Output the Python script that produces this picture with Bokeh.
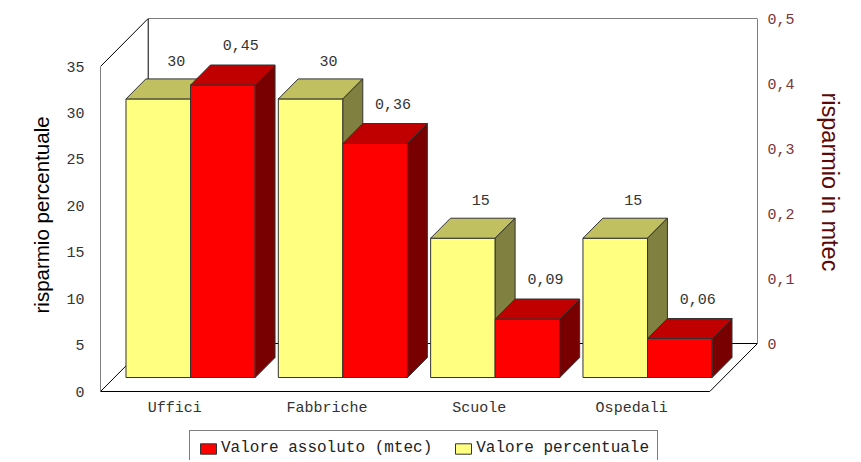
from bokeh.plotting import figure
from bokeh.models import (Range1d, LinearAxis, FixedTicker, ColumnDataSource,
                          Legend, LegendItem, Title)
from bokeh.core.properties import value
from bokeh.embed import file_html
from bokeh.resources import INLINE

# ---------------- data ----------------
categories = ["Uffici", "Fabbriche", "Scuole", "Ospedali"]
perc_values = [30, 30, 15, 15]
mtec_values = [0.45, 0.36, 0.09, 0.06]
perc_labels = ["30", "30", "15", "15"]
mtec_labels = ["0,45", "0,36", "0,09", "0,06"]
left_ticks = [0, 5, 10, 15, 20, 25, 30, 35]
right_ticks = [0, 0.1, 0.2, 0.3, 0.4, 0.5]
right_tick_labels = ["0", "0,1", "0,2", "0,3", "0,4", "0,5"]

# ---------------- layout / style constants ----------------
W, H = 861, 460
BORDER_L, BORDER_T = 100, 18
BOX_W, BOX_H = 661, 373      # px, 3D box extent (floor front -> back wall top)
BELOW = 69                   # px, room below the floor inside the frame (labels + legend)
DEPTH = 48                   # px, depth of the 3D box
BAR_DEPTH = 20               # px, depth of bars
BAR_OFFSET = 14              # px, bars inset from floor front
BAR_W = 0.424                # fraction of category width per bar
MONO = "Liberation Mono"

n = len(categories)
ymax = left_ticks[-1]
px_cat = (BOX_W - DEPTH) / n
px_unit = (BOX_H - DEPTH) / ymax
dx = DEPTH / px_cat
dy = DEPTH / px_unit
bdx = BAR_DEPTH / px_cat
bdy = BAR_DEPTH / px_unit
ox = BAR_OFFSET / px_cat
oy = BAR_OFFSET / px_unit
ratio = ymax / right_ticks[-1]          # left units per mtec unit
margin = (1 - 2 * BAR_W) / 2
y_start = -BELOW / px_unit

p = figure(width=W, height=H, output_backend="svg", toolbar_location=None,
           x_range=Range1d(0, n + dx), y_range=Range1d(y_start, ymax + dy),
           min_border_left=BORDER_L, min_border_right=W - BORDER_L - BOX_W,
           min_border_top=BORDER_T, min_border_bottom=0)


def to_mtec(L):
    return (L - dy) / ratio


p.extra_y_ranges = {"mtec": Range1d(to_mtec(y_start), right_ticks[-1])}
p.xgrid.visible = False
p.ygrid.visible = False
p.xaxis.visible = False
p.outline_line_color = None
p.background_fill_color = "white"

# ---------------- walls ----------------
wall_lines = [
    ([0, 0], [0, ymax]),
    ([0, dx], [ymax, ymax + dy]),
    ([0, dx], [0, dy]),
    ([dx, dx], [dy, ymax + dy]),
    ([dx, n + dx], [ymax + dy, ymax + dy]),
    ([n + dx, n + dx], [ymax + dy, dy]),
    ([dx, n + dx], [dy, dy]),
    ([0, n], [0, 0]),
    ([n, n + dx], [0, dy]),
]
p.multi_line(xs=[w[0] for w in wall_lines], ys=[w[1] for w in wall_lines],
             line_color="black", line_width=1)


# ---------------- bars ----------------
def faces(x0s, bottoms, heights, ddx, ddy):
    front_x, front_y, top_x, top_y, side_x, side_y = [], [], [], [], [], []
    for x0, b, h in zip(x0s, bottoms, heights):
        x1 = x0 + BAR_W
        t = b + h
        front_x.append([x0, x1, x1, x0]); front_y.append([b, b, t, t])
        top_x.append([x0, x1, x1 + ddx, x0 + ddx]); top_y.append([t, t, t + ddy, t + ddy])
        side_x.append([x1, x1 + ddx, x1 + ddx, x1]); side_y.append([b, b + ddy, t + ddy, t])
    return front_x, front_y, top_x, top_y, side_x, side_y


yx0 = [i + ox + margin for i in range(n)]
rx0 = [x + BAR_W for x in yx0]

# yellow (percent) on left scale
yf = faces(yx0, [oy] * n, perc_values, bdx, bdy)
y_front = p.patches(yf[0], yf[1], fill_color="#FFFF80", line_color="#333333")
p.patches(yf[2], yf[3], fill_color="#C0C060", line_color="#333333")
p.patches(yf[4], yf[5], fill_color="#808040", line_color="#333333")

# red (mtec) on right scale
rf = faces(rx0, [to_mtec(oy)] * n, mtec_values, bdx, bdy / ratio)
r_front = p.patches(rf[0], rf[1], fill_color="#FF0000", line_color="#333333",
                    y_range_name="mtec")
p.patches(rf[2], rf[3], fill_color="#C00000", line_color="#333333", y_range_name="mtec")
p.patches(rf[4], rf[5], fill_color="#780000", line_color="#333333", y_range_name="mtec")

# value labels
ysrc = ColumnDataSource(dict(x=[x + BAR_W / 2 + bdx for x in yx0],
                             y=[oy + v + bdy for v in perc_values], t=perc_labels))
p.text(x="x", y="y", text="t", source=ysrc, text_align="center",
       text_baseline="alphabetic", y_offset=-18, x_offset=-2,
       text_font=value(MONO), text_font_size="15px", text_color="#333333")
rsrc = ColumnDataSource(dict(x=[x + BAR_W / 2 + bdx for x in rx0],
                             y=[to_mtec(oy) + v + bdy / ratio for v in mtec_values],
                             t=mtec_labels))
p.text(x="x", y="y", text="t", source=rsrc, text_align="center",
       text_baseline="alphabetic", y_offset=-20, x_offset=-2,
       text_font=value(MONO), text_font_size="15px", text_color="#333333",
       y_range_name="mtec")

# category labels under the floor
csrc = ColumnDataSource(dict(x=[i + 0.5 for i in range(n)], y=[0] * n, t=categories))
p.text(x="x", y="y", text="t", source=csrc, text_align="center",
       text_baseline="top", y_offset=8, x_offset=-2,
       text_font=value(MONO), text_font_size="15px", text_color="#333333")

# ---------------- axes ----------------
ya = p.yaxis[0]
ya.ticker = FixedTicker(ticks=left_ticks)
ya.axis_line_color = None
ya.major_tick_line_color = None
ya.minor_tick_line_color = None
ya.major_tick_out = 0
ya.major_tick_in = 0
ya.major_label_text_font = MONO
ya.major_label_text_color = "#333333"
ya.major_label_text_font_size = "15px"
ya.major_label_standoff = 16

ra = LinearAxis(y_range_name="mtec", ticker=FixedTicker(ticks=right_ticks))
ra.major_label_overrides = {t: l for t, l in zip(right_ticks, right_tick_labels)}
ra.axis_line_color = None
ra.major_tick_line_color = None
ra.minor_tick_line_color = None
ra.major_tick_out = 0
ra.major_tick_in = 0
ra.major_label_standoff = 10
ra.major_label_text_font = MONO
ra.major_label_text_font_size = "15px"
ra.major_label_text_color = "#7A3535"
p.add_layout(ra, "right")

p.add_layout(Title(text="risparmio percentuale", align="left",
                   text_font="Liberation Sans", text_font_size="20.5px",
                   text_font_style="normal", text_color="black",
                   offset=147, standoff=21), "left")
p.add_layout(Title(text="risparmio in mtec", align="left", vertical_align="middle",
                   text_font="Liberation Sans", text_font_size="23.5px",
                   text_font_style="normal", text_color="#5A0808",
                   offset=74, standoff=36), "right")

# ---------------- legend ----------------
legend = Legend(items=[LegendItem(label="Valore assoluto (mtec)", renderers=[r_front]),
                       LegendItem(label="Valore percentuale", renderers=[y_front])],
                orientation="horizontal", location=(89, -6),
                border_line_color="black", border_line_width=1,
                padding=8, spacing=21, label_standoff=3,
                glyph_width=20, glyph_height=13, label_height=13,
                label_text_font=MONO, label_text_font_size="16px",
                label_text_color="#222222", margin=0)
p.add_layout(legend)

open("out.html", "w").write(file_html(p, INLINE))
